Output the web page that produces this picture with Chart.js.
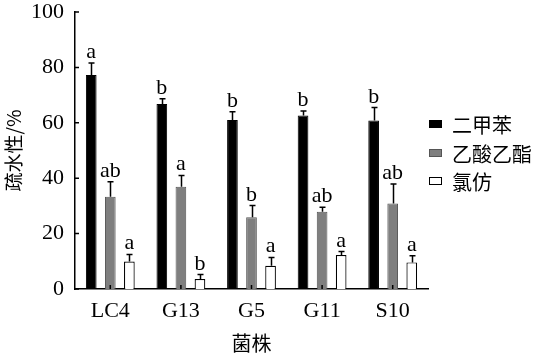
<!DOCTYPE html>
<html>
<head>
<meta charset="utf-8">
<script src="https://cdn.jsdelivr.net/npm/chart.js@4"></script>
<style>
html,body{margin:0;padding:0;background:#fff;}
canvas{display:block;}
</style>
</head>
<body>
<canvas id="c" width="541" height="357"></canvas>
<script>
const categories = ['LC4', 'G13', 'G5', 'G11', 'S10'];
const seriesNames = ['二甲苯', '乙酸乙酯', '氯仿'];
const xylene = [77.3, 66.8, 61.0, 62.6, 60.8];
const xyleneErr = [4.3, 1.9, 3.0, 1.7, 4.7];
const xyleneSig = ['a', 'b', 'b', 'b', 'b'];
const ethylAcetate = [33.3, 36.9, 25.9, 27.9, 30.9];
const ethylAcetateErr = [5.4, 4.1, 4.2, 1.6, 7.0];
const ethylAcetateSig = ['ab', 'a', 'b', 'ab', 'ab'];
const chloroform = [9.9, 3.6, 8.4, 12.3, 9.6];
const chloroformErr = [2.6, 1.6, 3.0, 1.2, 2.4];
const chloroformSig = ['a', 'b', 'a', 'a', 'a'];
const yTicks = [0, 20, 40, 60, 80, 100];

const SERIF = '"Liberation Serif", "Times New Roman", "Noto Sans CJK SC", serif';
const CJK = '"Noto Sans CJK SC", "Liberation Serif", serif';

const errs = [xyleneErr, ethylAcetateErr, chloroformErr];
const sigs = [xyleneSig, ethylAcetateSig, chloroformSig];

const extras = {
  id: 'extras',
  afterDatasetsDraw(chart) {
    const ctx = chart.ctx;
    const ys = chart.scales.y;
    ctx.save();
    chart.data.datasets.forEach((ds, di) => {
      const meta = chart.getDatasetMeta(di);
      meta.data.forEach((bar, i) => {
        const v = ds.data[i];
        const top = ys.getPixelForValue(v + errs[di][i]);
        const x = Math.round(bar.x) + 0.5;
        ctx.strokeStyle = '#000';
        ctx.lineWidth = 1.5;
        ctx.beginPath();
        ctx.moveTo(x, bar.y);
        ctx.lineTo(x, top);
        ctx.moveTo(x - 3, top);
        ctx.lineTo(x + 3, top);
        ctx.stroke();
        ctx.fillStyle = '#000';
        ctx.font = '22px ' + SERIF;
        ctx.textAlign = 'center';
        ctx.textBaseline = 'alphabetic';
        ctx.fillText(sigs[di][i], bar.x, top - 5);
      });
    });
    ctx.restore();
  },
  afterDraw(chart) {
    const ctx = chart.ctx;
    const xs = chart.scales.x, ys = chart.scales.y;
    const a = chart.chartArea;
    ctx.save();
    ctx.strokeStyle = '#000';
    ctx.lineWidth = 1.5;
    ctx.beginPath();
    yTicks.forEach(t => {
      const y = ys.getPixelForValue(t);
      ctx.moveTo(a.left, y);
      ctx.lineTo(a.left + 4, y);
    });
    categories.forEach((c, i) => {
      const x = xs.getPixelForValue(i);
      ctx.moveTo(x, a.bottom);
      ctx.lineTo(x, a.bottom - 4);
    });
    ctx.stroke();
    // legend
    const lx = 429, rows = [124, 153, 181];
    chart.data.datasets.forEach((ds, di) => {
      ctx.fillStyle = ds.backgroundColor;
      ctx.strokeStyle = ds.borderColor;
      ctx.lineWidth = 1;
      ctx.fillRect(lx, rows[di] - 4, 13, 8);
      ctx.strokeRect(lx + 0.5, rows[di] - 3.5, 12, 7);
      ctx.fillStyle = '#000';
      ctx.font = '20px ' + CJK;
      ctx.textAlign = 'left';
      ctx.textBaseline = 'middle';
      ctx.fillText(ds.label, 452, rows[di] + 1);
    });
    ctx.restore();
  }
};

new Chart(document.getElementById('c'), {
  type: 'bar',
  data: {
    labels: categories,
    datasets: [
      { label: seriesNames[0], data: xylene, backgroundColor: '#000000', borderColor: '#000000', borderWidth: 1 },
      { label: seriesNames[1], data: ethylAcetate, backgroundColor: '#7f7f7f', borderColor: '#555555', borderWidth: 1 },
      { label: seriesNames[2], data: chloroform, backgroundColor: '#ffffff', borderColor: '#000000', borderWidth: 1.2 }
    ]
  },
  options: {
    responsive: false,
    devicePixelRatio: 1,
    animation: false,
    layout: { padding: { top: 12, right: 113, left: 2, bottom: 2 } },
    plugins: { legend: { display: false }, tooltip: { enabled: false } },
    datasets: { bar: { categoryPercentage: 0.81, barPercentage: 0.56 } },
    scales: {
      x: {
        grid: { display: false, drawTicks: false },
        border: { color: '#000', width: 1.5 },
        ticks: { color: '#000', font: { family: SERIF, size: 22 }, padding: 9 },
        title: { display: true, text: '菌株', color: '#000', font: { family: CJK, size: 20 }, padding: { top: 0, bottom: 0 } },
        afterFit(s) { s.height = 66; s.paddingLeft = 0; s.paddingRight = 0; }
      },
      y: {
        min: 0, max: 100,
        afterBuildTicks(s) { s.ticks = yTicks.map(v => ({ value: v })); },
        grid: { display: false, drawTicks: false },
        border: { color: '#000', width: 1.5 },
        ticks: { color: '#000', font: { family: SERIF, size: 22 }, padding: 11 },
        title: { display: true, text: '疏水性/%', color: '#000', font: { family: CJK, size: 19 }, padding: { top: 0, bottom: 4 } },
        afterFit(s) { s.width = 73; s.paddingTop = 0; s.paddingBottom = 0; }
      }
    }
  },
  plugins: [extras]
});
</script>
</body>
</html>
